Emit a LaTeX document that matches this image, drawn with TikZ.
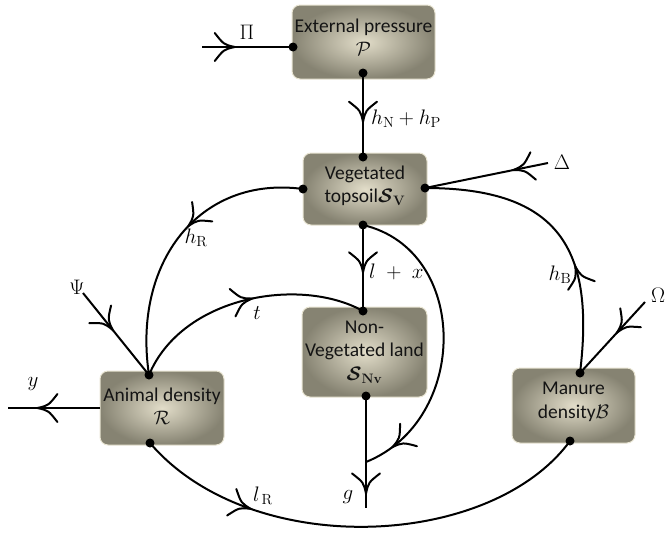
\RequirePackage{fix-cm}
\documentclass[tikz,border=0pt]{standalone}
\usepackage{amsmath,bm}
\usepackage{fontspec}
\newfontfamily\boxfont{Carlito}
\usetikzlibrary{decorations.markings}
\definecolor{boxin}{RGB}{226,221,201}
\definecolor{boxout}{RGB}{134,131,114}
\definecolor{boxedge}{RGB}{232,228,210}
\definecolor{textgray}{RGB}{20,20,20}
\tikzset{
  flow/.style={line width=2pt, draw=black},
  arr/.style={postaction={decorate, decoration={markings, mark=at position #1 with {%
     \draw[line width=2pt, line cap=round] (-20pt,14pt) .. controls (-11pt,2.5pt) .. (0pt,0pt) .. controls (-11pt,-2.5pt) .. (-20pt,-14pt);}}}},
  stock/.style={rounded corners=8pt, inner color=boxin, outer color=boxout, draw=boxedge, line width=1pt, inner sep=0pt},
  lab/.style={font=\fontsize{21}{23}\selectfont, inner sep=0pt},
  boxtext/.style={font=\boxfont\fontsize{19.5}{23.5}\selectfont, align=center, text=textgray, inner sep=0pt},
}
\begin{document}
\begin{tikzpicture}[x=1pt,y=-1pt]
\useasboundingbox (0,0) rectangle (666,533);
% boxes
\node[stock, minimum width=143pt, minimum height=74pt] (P) at (363.5,42) {};
\node[stock, minimum width=124pt, minimum height=72pt] (V) at (365,189) {};
\node[stock, minimum width=125pt, minimum height=90pt] (N) at (364.5,352) {};
\node[stock, minimum width=124pt, minimum height=74pt] (R) at (162,408) {};
\node[stock, minimum width=123pt, minimum height=75pt] (B) at (573.5,405.5) {};
% box texts
\node[boxtext] (Pt) at (363.5,37) {External pressure\\$\mathcal{P}$};
\node[boxtext] (Vt) at (365,186) {Vegetated\\topsoil$\boldsymbol{\mathcal{S}_{\mathbf{V}}}$};
\node[boxtext] (Nt) at (364.5,352) {Non-\\Vegetated land\\$\boldsymbol{\mathcal{S}_{\mathbf{Nv}}}$};
\node[boxtext] (Rt) at (162,406) {Animal density\\$\mathcal{R}$};
\node[boxtext] (Bt) at (573.5,402) {Manure\\density$\mathcal{B}$};
% connection points
\coordinate (pL) at (293,47);
\coordinate (pB) at (363,73);
\coordinate (vT) at (363,157);
\coordinate (vL) at (303,189);
\coordinate (vR) at (425,188);
\coordinate (vB) at (363,225);
\coordinate (nT) at (363,311);
\coordinate (nB) at (366,396);
\coordinate (rT) at (149,375);
\coordinate (rB) at (150,443);
\coordinate (rW) at (100,408);
\coordinate (bT) at (580,373);
\coordinate (bB) at (570,441);
\coordinate (piS) at (202,47);
\coordinate (deS) at (548,163);
\coordinate (psS) at (83,293);
\coordinate (omS) at (645,302);
\coordinate (yE) at (8,408);
\coordinate (gJ) at (366,462);
\coordinate (gE) at (366,508);
% connectors
\draw[flow, arr=0.36] (piS) -- (pL);
\draw[flow, arr=0.58] (pB) -- (vT);
\draw[flow, arr=0.28] (deS) -- (vR);
\draw[flow, arr=0.44] (vL) .. controls (200,175) and (132,262) .. (rT);
\draw[flow, arr=0.45] (psS) -- (rT);
\draw[flow, arr=0.68] (rW) -- (yE);
\draw[flow, arr=0.54] (rT) .. controls (182,296) and (300,276) .. (nT);
\draw[flow, arr=0.55] (vB) -- (nT);
\draw[flow, arr=0.9] (vB) .. controls (470,250) and (470,420) .. (gJ);
\draw[flow, arr=0.87] (nB) -- (gE);
\draw[flow, arr=0.26] (rB) .. controls (250,560) and (490,550) .. (bB);
\draw[flow, arr=0.37] (bT) .. controls (595,250) and (560,188) .. (vR);
\draw[flow, arr=0.43] (omS) -- (bT);
% dots
\foreach \c in {pL,pB,vT,vL,vR,vB,nT,nB,rT,rB,bT,bB}
  \fill (\c) circle (4.5pt);
% labels
\node[lab] (lPi) at (247,32) {$\Pi$};
\node[lab, anchor=west] (lhNP) at (371,119) {$h_{\mathrm{N}} + h_{\mathrm{P}}$};
\node[lab] (lDe) at (562,162) {$\Delta$};
\node[lab] (lhR) at (196,238) {$h_{\mathrm{R}}$};
\node[lab] (lPs) at (77,287) {$\Psi$};
\node[lab] (ly) at (33,384) {$y$};
\node[lab] (lt) at (257,313) {$t$};
\node[lab, anchor=west] (llx) at (369,272) {$l\;+\;x$};
\node[lab] (lg) at (348,497) {$g$};
\node[lab] (llR) at (263,496) {$l_{\,\mathrm{R}}$};
\node[lab] (lhB) at (560,275) {$h_{\mathrm{B}}$};
\node[lab] (lOm) at (658,295) {$\Omega$};
\end{tikzpicture}
\end{document}
